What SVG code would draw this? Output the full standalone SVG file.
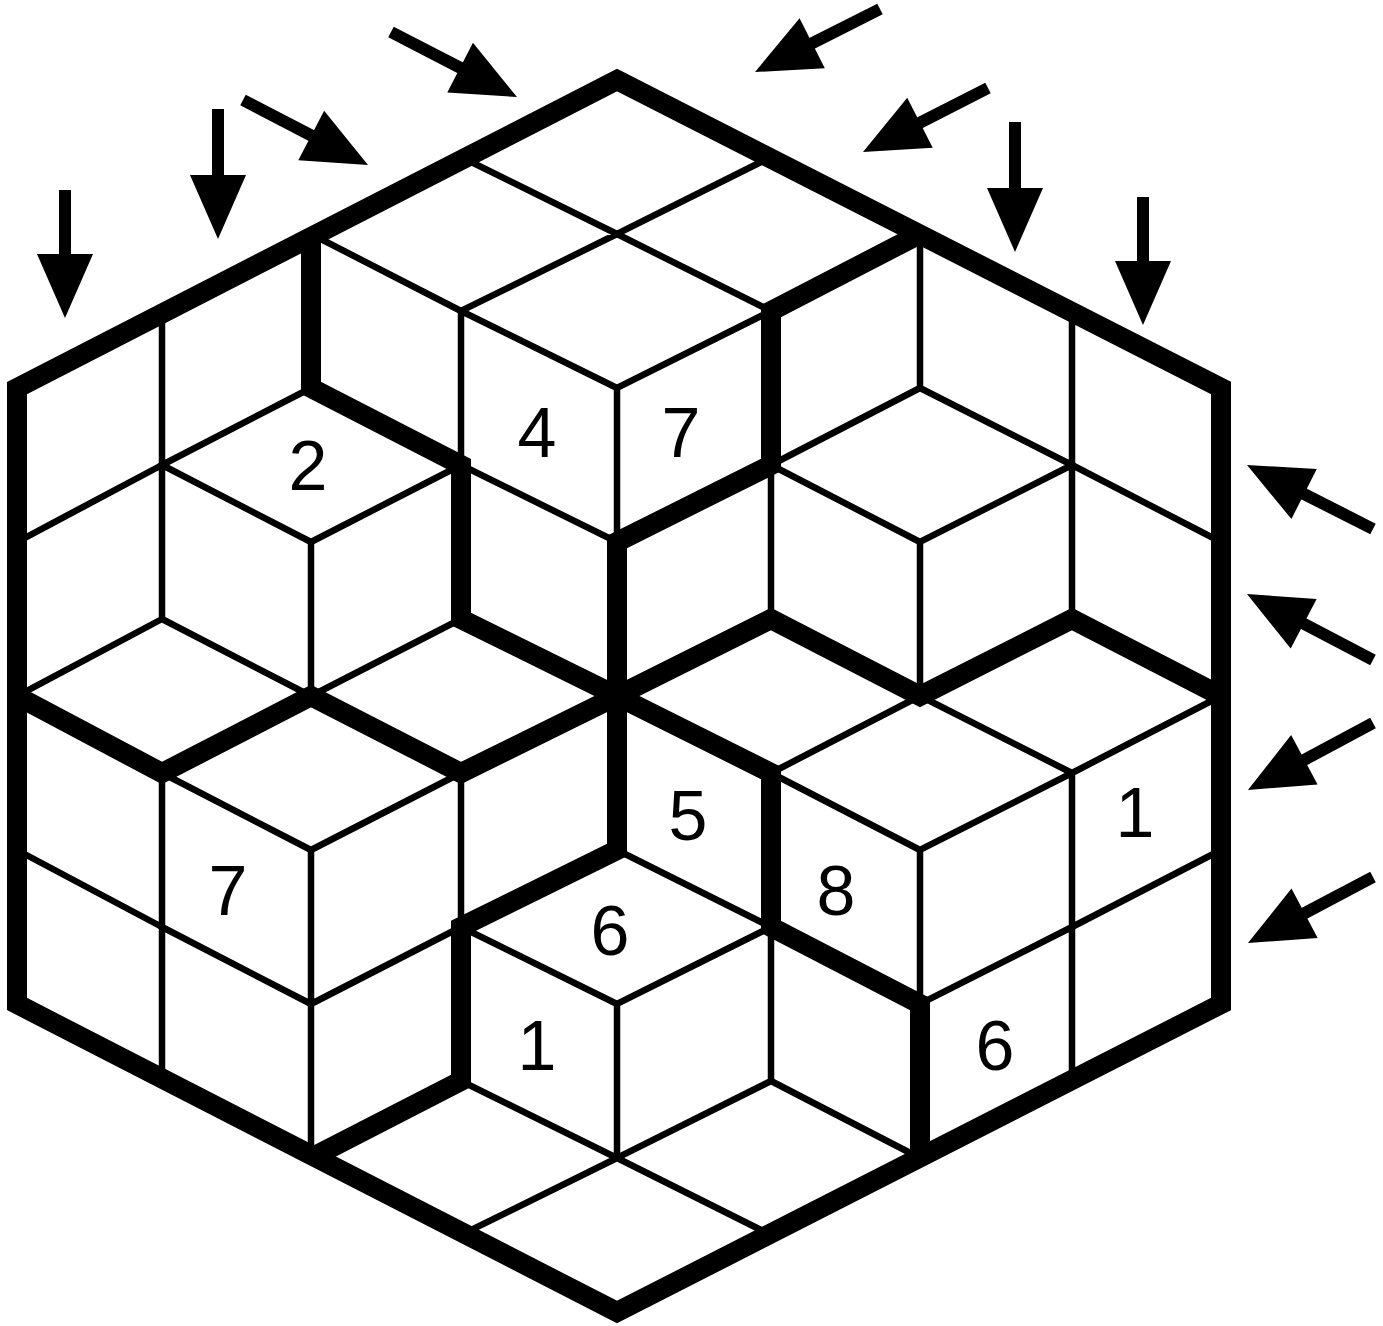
<svg xmlns="http://www.w3.org/2000/svg" width="1383" height="1326" viewBox="0 0 1383 1326">
<style>
.thin{stroke:#000;stroke-width:6.5;fill:none;stroke-linecap:square}
.thick{stroke:#000;stroke-width:20;fill:none;stroke-linejoin:miter;stroke-linecap:butt}
.num{font-family:"Liberation Sans",Arial,sans-serif;font-size:70px;fill:#000;text-anchor:middle}
.arr{stroke:#000;stroke-width:12;fill:none;stroke-linecap:butt}
</style>
<defs>
<marker id="ah" markerUnits="userSpaceOnUse" viewBox="-4 -30 70 60" markerWidth="70" markerHeight="60" refX="0" refY="0" orient="auto">
<path d="M-2,-28 L62,0 L-2,28 Z" fill="#000"/>
</marker>
</defs>
<rect width="1383" height="1326" fill="#fff"/>
<g id="cells">
<path class="thin" d="M17,542L162,465M17,696L162,619M17,850L162,927
M162,465L311,388M162,465L311,542M162,619L311,696M162,773L311,850M162,927L311,1004
M311,234L461,311M311,542L461,465M311,696L461,619M311,850L461,773M311,1004L461,927
M461,157L617,234M461,311L617,234M461,311L617,388M461,465L617,542M461,927L617,1004M461,1081L617,1158M461,1235L617,1158
M617,234L771,157M617,234L771,311M617,388L771,311M617,850L771,927M617,1004L771,927M617,1158L771,1081M617,1158L771,1235
M771,465L920,388M771,465L920,542M771,773L920,696M771,773L920,850M771,1081L920,1158
M920,388L1072,465M920,542L1072,465M920,696L1072,773M920,850L1072,773M920,1004L1072,927
M1072,465L1221,542M1072,773L1221,696M1072,927L1221,850
M162,311V619M162,773V1081
M311,542V696M311,850V1158
M461,311V465M461,773V927
M617,388V542M617,1004V1158
M771,465V619M771,927V1081
M920,234V388M920,542V696M920,850V1004
M1072,311V619M1072,773V1081"/>
</g>
<g id="regions">
<polyline class="thick" points="311,234 311,388 461,465 461,619 617,696"/>
<polyline class="thick" points="617,696 617,542 771,465 771,311 920,234"/>
<polyline class="thick" points="617,696 771,619 920,696 1072,619 1221,696"/>
<polyline class="thick" points="617,696 771,773 771,927 920,1004 920,1158"/>
<polyline class="thick" points="617,696 617,850 461,927 461,1081 311,1158"/>
<polyline class="thick" points="617,696 461,773 311,696 162,773 17,696"/>
<polygon class="thick" points="617,80 1221,388 1221,1004 617,1312 17,1004 17,388"/>
</g>
<g id="numbers">
<text class="num" x="308" y="490">2</text>
<text class="num" x="537" y="457">4</text>
<text class="num" x="681" y="457">7</text>
<text class="num" x="688" y="840">5</text>
<text class="num" x="228" y="915">7</text>
<text class="num" x="836" y="915">8</text>
<text class="num" x="1135" y="837">1</text>
<text class="num" x="610" y="955">6</text>
<text class="num" x="537" y="1070">1</text>
<text class="num" x="995" y="1070">6</text>
</g>
<g id="arrows">
<line class="arr" x1="65" y1="190" x2="65" y2="256" marker-end="url(#ah)"/>
<line class="arr" x1="218" y1="109" x2="218" y2="177" marker-end="url(#ah)"/>
<line class="arr" x1="243" y1="100" x2="313" y2="136.4" marker-end="url(#ah)"/>
<line class="arr" x1="391" y1="32" x2="461.9" y2="68.6" marker-end="url(#ah)"/>
<line class="arr" x1="880" y1="9" x2="810.4" y2="44.1" marker-end="url(#ah)"/>
<line class="arr" x1="988" y1="88" x2="918.2" y2="123.7" marker-end="url(#ah)"/>
<line class="arr" x1="1015" y1="122" x2="1015" y2="190" marker-end="url(#ah)"/>
<line class="arr" x1="1143" y1="197" x2="1143" y2="263" marker-end="url(#ah)"/>
<line class="arr" x1="1373" y1="529" x2="1302.3" y2="493.1" marker-end="url(#ah)"/>
<line class="arr" x1="1373" y1="660" x2="1301.9" y2="622.8" marker-end="url(#ah)"/>
<line class="arr" x1="1373" y1="723" x2="1302.6" y2="760.7" marker-end="url(#ah)"/>
<line class="arr" x1="1373" y1="877" x2="1302.8" y2="914.1" marker-end="url(#ah)"/>
</g>
</svg>
